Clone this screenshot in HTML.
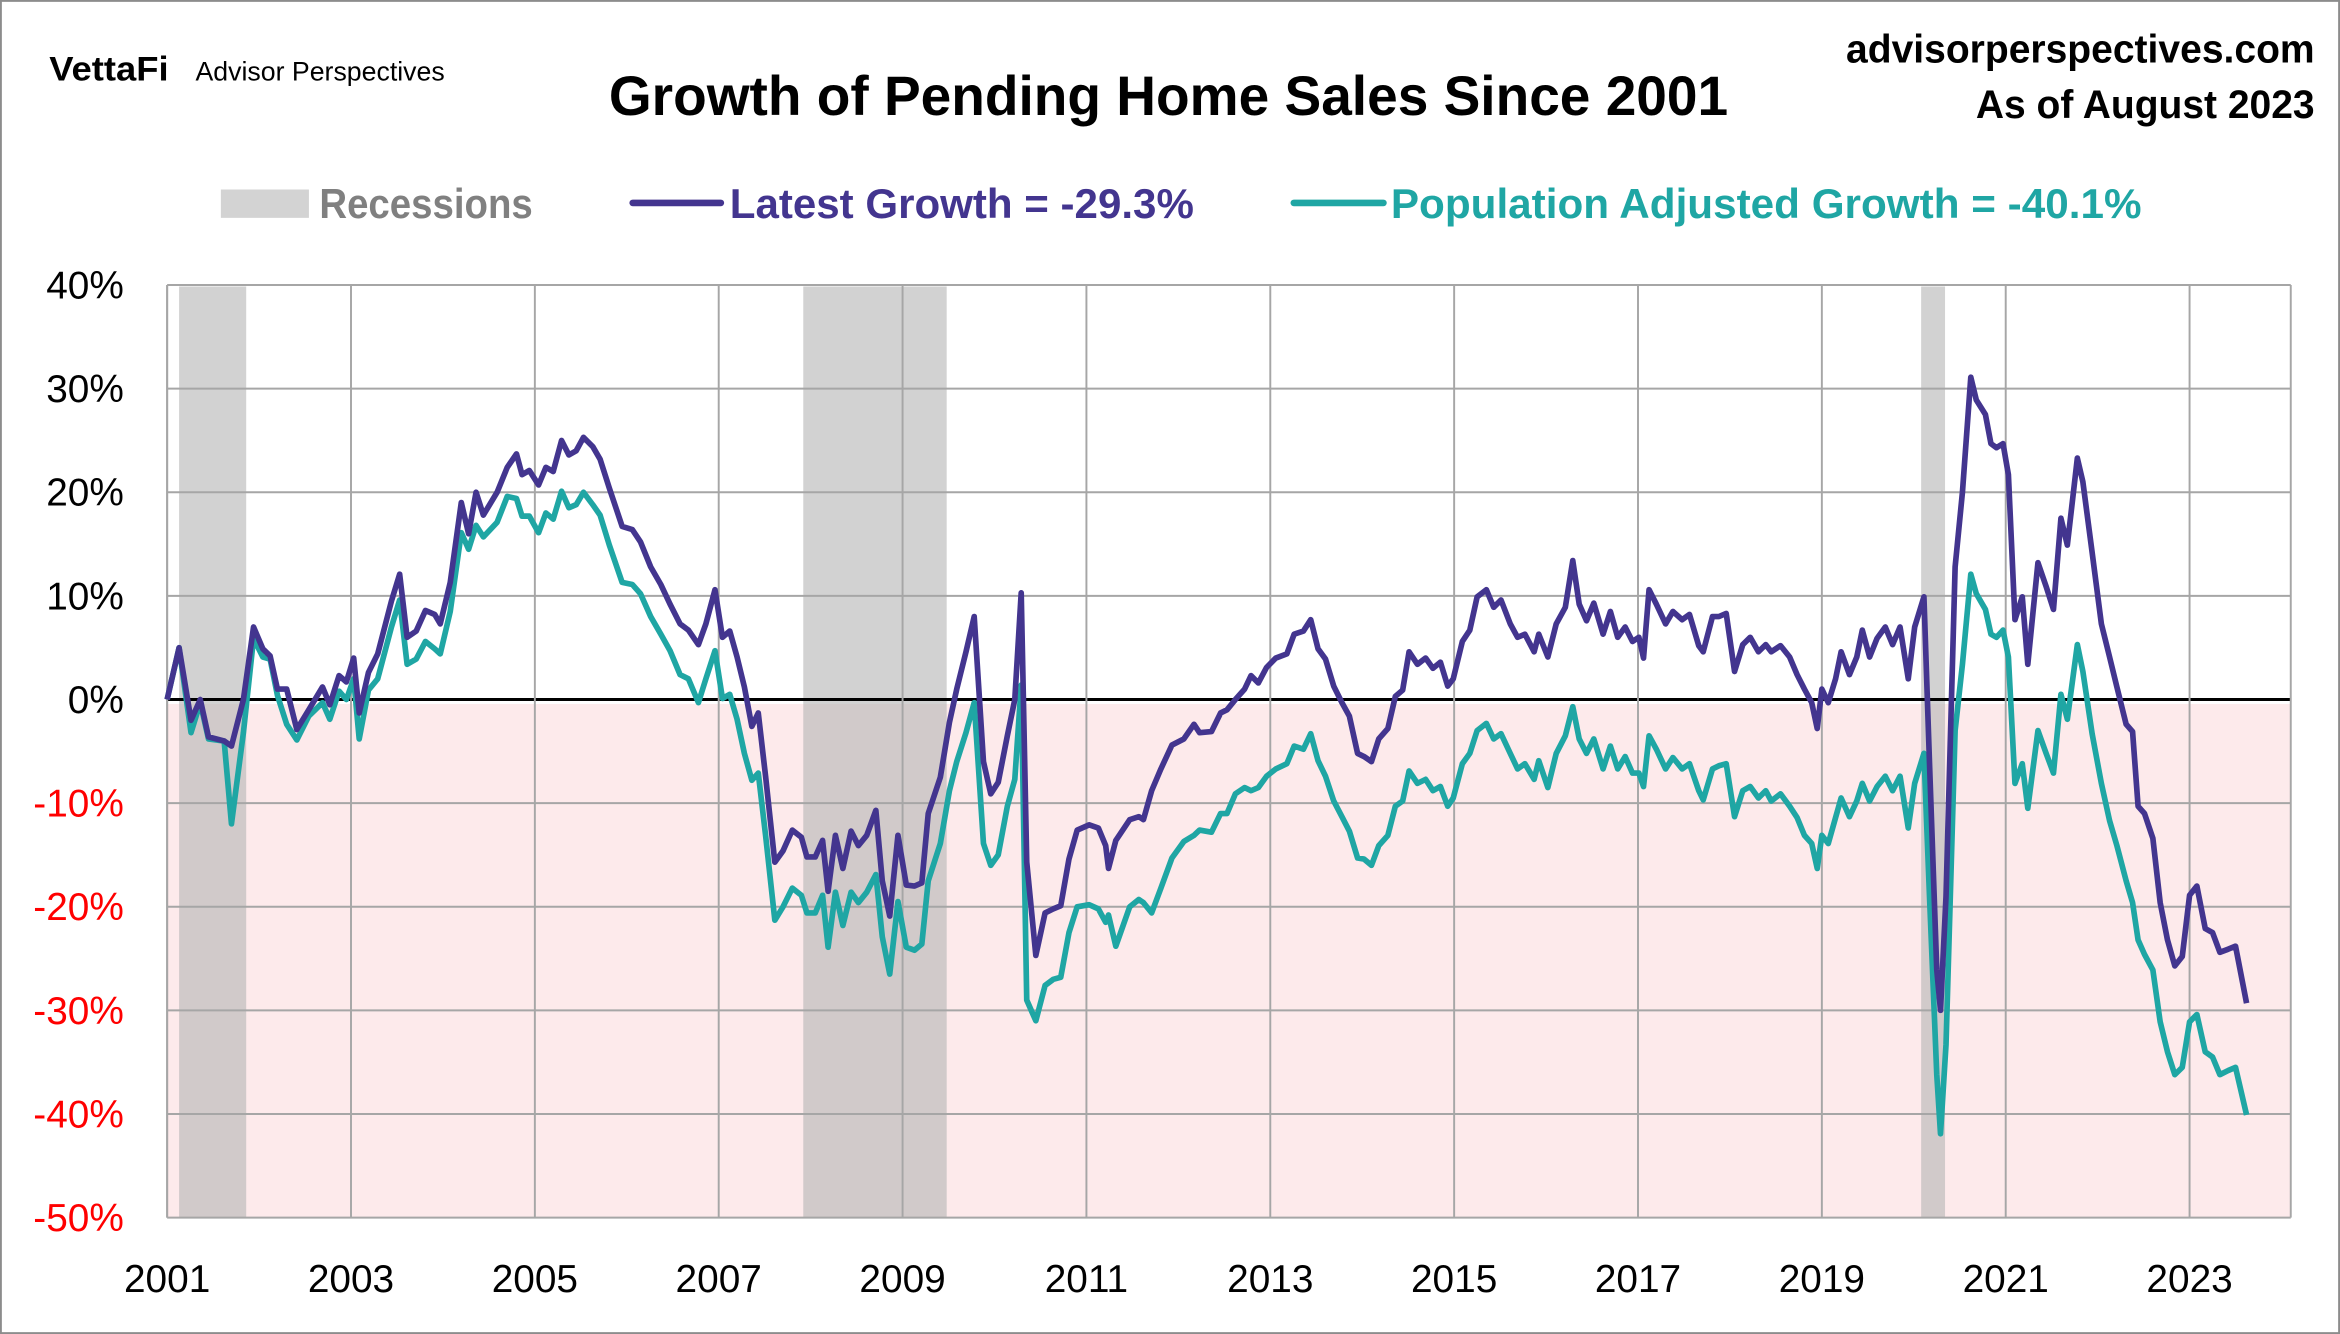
<!DOCTYPE html>
<html><head><meta charset="utf-8"><style>
html,body{margin:0;padding:0;background:#fff;}
svg{display:block;}
text{font-family:"Liberation Sans Narrow","Liberation Sans",sans-serif;}
</style></head><body>
<svg id="chart" width="2340" height="1334" viewBox="0 0 1568 894" preserveAspectRatio="none" xmlns="http://www.w3.org/2000/svg">
<rect x="0.5" y="0.5" width="1567" height="893" fill="#fff" stroke="#8c8c8c" stroke-width="1.5"/>
<g>
<text x="33" y="54" font-size="23" font-weight="900" textLength="80" lengthAdjust="spacingAndGlyphs">VettaFi</text>
<text x="131" y="54" font-size="18" textLength="167" lengthAdjust="spacingAndGlyphs">Advisor Perspectives</text>
</g>
<text x="408" y="77" font-size="37" font-weight="bold" textLength="750" lengthAdjust="spacingAndGlyphs">Growth of Pending Home Sales Since 2001</text>
<text x="1551" y="42" font-size="27" font-weight="bold" text-anchor="end" textLength="314" lengthAdjust="spacingAndGlyphs">advisorperspectives.com</text>
<text x="1551" y="79" font-size="27" font-weight="bold" text-anchor="end" textLength="227" lengthAdjust="spacingAndGlyphs">As of August 2023</text>
<g>
<g>
<rect x="148" y="127" width="59" height="19" fill="#d3d3d3"/>
<text x="214" y="146" font-size="28" font-weight="bold" fill="#808080" textLength="143" lengthAdjust="spacingAndGlyphs">Recessions</text>
</g>
<g>
<line x1="424" y1="136" x2="483" y2="136" stroke="#43358f" stroke-width="4.5" stroke-linecap="round"/>
<text x="489" y="146" font-size="28" font-weight="bold" fill="#43358f" textLength="311" lengthAdjust="spacingAndGlyphs">Latest Growth = -29.3%</text>
</g>
<g>
<line x1="867" y1="136" x2="927" y2="136" stroke="#1fa6a4" stroke-width="4.5" stroke-linecap="round"/>
<text x="932" y="146" font-size="28" font-weight="bold" fill="#1fa6a4" textLength="503" lengthAdjust="spacingAndGlyphs">Population Adjusted Growth = -40.1%</text>
</g>
</g>
<g id="plot"></g>
</svg>
<script>
const yTicks = [40,30,20,10,0,-10,-20,-30,-40,-50];
const xTickYears = [2001,2003,2005,2007,2009,2011,2013,2015,2017,2019,2021,2023];
const recessionStarts = [2001.13,2007.92,2020.08];
const recessionEnds = [2001.86,2009.48,2020.34];
const dates = [2001.00,2001.13,2001.26,2001.36,2001.45,2001.62,2001.70,2001.83,2001.94,2002.04,2002.12,2002.20,2002.30,2002.41,2002.54,2002.69,2002.77,2002.87,2002.95,2003.03,2003.09,2003.19,2003.29,2003.44,2003.53,2003.61,2003.71,2003.81,2003.91,2003.97,2004.08,2004.20,2004.28,2004.36,2004.44,2004.59,2004.70,2004.80,2004.86,2004.94,2005.04,2005.12,2005.20,2005.29,2005.37,2005.45,2005.53,2005.63,2005.71,2005.81,2005.95,2006.06,2006.15,2006.26,2006.37,2006.47,2006.58,2006.67,2006.78,2006.86,2006.96,2007.04,2007.12,2007.20,2007.28,2007.36,2007.43,2007.51,2007.61,2007.70,2007.80,2007.90,2007.96,2008.05,2008.13,2008.19,2008.27,2008.35,2008.44,2008.52,2008.61,2008.71,2008.78,2008.86,2008.95,2009.04,2009.13,2009.21,2009.28,2009.41,2009.51,2009.59,2009.69,2009.78,2009.88,2009.96,2010.04,2010.14,2010.22,2010.29,2010.35,2010.45,2010.55,2010.64,2010.72,2010.81,2010.90,2011.03,2011.13,2011.21,2011.24,2011.32,2011.47,2011.57,2011.62,2011.71,2011.81,2011.93,2012.06,2012.17,2012.23,2012.36,2012.46,2012.53,2012.62,2012.72,2012.79,2012.87,2012.96,2013.06,2013.18,2013.26,2013.36,2013.44,2013.52,2013.60,2013.69,2013.78,2013.86,2013.95,2014.02,2014.10,2014.18,2014.28,2014.36,2014.44,2014.51,2014.60,2014.69,2014.77,2014.85,2014.93,2014.99,2015.09,2015.17,2015.25,2015.35,2015.43,2015.51,2015.61,2015.69,2015.77,2015.87,2015.92,2016.02,2016.11,2016.21,2016.29,2016.36,2016.44,2016.52,2016.62,2016.70,2016.78,2016.86,2016.94,2017.01,2017.06,2017.12,2017.20,2017.30,2017.38,2017.48,2017.56,2017.66,2017.71,2017.81,2017.88,2017.96,2018.05,2018.14,2018.22,2018.31,2018.39,2018.45,2018.55,2018.65,2018.73,2018.81,2018.89,2018.95,2019.00,2019.07,2019.15,2019.21,2019.30,2019.38,2019.44,2019.52,2019.60,2019.69,2019.77,2019.85,2019.94,2020.01,2020.11,2020.17,2020.25,2020.29,2020.35,2020.45,2020.53,2020.62,2020.68,2020.78,2020.84,2020.90,2020.97,2021.03,2021.10,2021.18,2021.24,2021.35,2021.44,2021.52,2021.60,2021.67,2021.78,2021.84,2021.94,2022.04,2022.13,2022.21,2022.31,2022.38,2022.44,2022.51,2022.60,2022.68,2022.76,2022.84,2022.92,2023.00,2023.08,2023.17,2023.25,2023.33,2023.42,2023.50,2023.62];
const latestGrowth = [0,5.0,-2.0,0,-3.6,-4.0,-4.5,0,7.0,4.9,4.2,1.0,1.0,-2.9,-1.0,1.2,-0.5,2.3,1.7,4.0,-1.3,2.6,4.4,9.5,12.1,6.0,6.6,8.6,8.2,7.3,11.3,19.0,16.0,20.0,17.8,20.0,22.4,23.7,21.7,22.1,20.7,22.4,22.0,25.0,23.6,24.0,25.3,24.4,23.2,20.4,16.7,16.4,15.2,12.8,11.1,9.2,7.3,6.7,5.3,7.3,10.6,6.0,6.6,4.1,1.2,-2.6,-1.3,-7.4,-15.7,-14.6,-12.6,-13.3,-15.2,-15.2,-13.6,-18.5,-13.1,-16.3,-12.7,-14.1,-13.1,-10.7,-17.5,-20.9,-13.1,-17.9,-18.0,-17.7,-11.0,-7.5,-2.2,1.0,4.6,8.0,-6.0,-9.1,-8.0,-3.5,0,10.3,-15.7,-24.7,-20.6,-20.2,-19.9,-15.4,-12.6,-12.1,-12.4,-14.1,-16.3,-13.6,-11.6,-11.3,-11.6,-8.8,-6.7,-4.4,-3.8,-2.4,-3.2,-3.1,-1.3,-1.0,0,1.0,2.3,1.6,3.1,4.0,4.4,6.3,6.6,7.7,4.9,3.9,1.3,-0.3,-1.6,-5.2,-5.5,-6.0,-3.8,-2.8,0.3,0.9,4.6,3.4,4.0,3.0,3.6,1.3,2.0,5.6,6.7,9.9,10.6,8.9,9.6,7.3,6.0,6.3,4.6,6.3,4.1,7.3,8.9,13.4,9.2,7.6,9.3,6.3,8.5,6.0,7.0,5.6,6.0,4.0,10.6,9.2,7.3,8.5,7.7,8.2,5.2,4.6,8.0,8.0,8.3,2.7,5.3,6.0,4.6,5.3,4.6,5.2,4.1,2.4,1.0,-0.3,-2.8,1.0,-0.3,2.0,4.6,2.4,4.1,6.7,4.1,5.9,7.0,5.3,7.0,2.0,7.0,9.9,-6.0,-26.1,-30.0,-19.0,12.8,20.0,31.1,28.9,27.5,24.7,24.3,24.7,21.7,7.7,9.9,3.4,13.2,10.9,8.7,17.5,14.9,23.3,21.0,14.2,7.3,4.1,1.2,-2.4,-3.1,-10.3,-11.0,-13.4,-19.6,-23.2,-25.7,-24.8,-18.9,-18.0,-22.1,-22.5,-24.4,-24.1,-23.8,-29.3];
const popAdjGrowth = [0,5.0,-3.2,-0.3,-3.8,-4.0,-12.0,-3.2,5.9,4.1,3.9,0.4,-2.4,-3.9,-1.6,-0.3,-1.9,0.8,0,2.0,-3.8,0.9,2.0,7.0,9.6,3.4,3.9,5.6,4.9,4.4,8.5,16.1,14.5,16.8,15.7,17.1,19.6,19.4,17.7,17.7,16.1,18.0,17.4,20.1,18.5,18.8,20.0,18.8,17.8,14.9,11.3,11.1,10.2,8.0,6.3,4.7,2.4,2.0,-0.3,2.0,4.7,0.1,0.5,-1.9,-5.2,-7.8,-7.1,-13.1,-21.3,-20.0,-18.2,-18.9,-20.6,-20.6,-18.9,-23.9,-18.6,-21.8,-18.6,-19.6,-18.6,-16.9,-22.9,-26.5,-19.5,-23.9,-24.2,-23.6,-17.5,-13.9,-8.8,-6.0,-3.2,-0.3,-13.9,-16.0,-15.0,-10.3,-7.7,1.4,-29.0,-31.0,-27.6,-27.0,-26.8,-22.5,-20.0,-19.8,-20.2,-21.5,-20.8,-23.8,-20.0,-19.3,-19.6,-20.6,-18.2,-15.3,-13.7,-13.1,-12.6,-12.8,-11.0,-11.0,-9.1,-8.5,-8.8,-8.5,-7.4,-6.7,-6.2,-4.5,-4.8,-3.3,-5.9,-7.4,-9.8,-11.3,-12.7,-15.3,-15.4,-16.0,-14.1,-13.1,-10.3,-9.8,-6.9,-8.1,-7.7,-8.8,-8.4,-10.3,-9.5,-6.2,-5.2,-3.0,-2.3,-3.8,-3.3,-5.2,-6.7,-6.2,-7.7,-5.9,-8.5,-5.2,-3.5,-0.7,-3.8,-5.2,-3.8,-6.7,-4.5,-6.7,-5.5,-7.1,-7.1,-8.4,-3.5,-4.8,-6.7,-5.6,-6.7,-6.2,-8.8,-9.7,-6.7,-6.4,-6.2,-11.3,-8.8,-8.4,-9.5,-8.8,-9.8,-9.1,-10.3,-11.4,-13.1,-13.9,-16.3,-13.1,-13.9,-11.4,-9.5,-11.3,-9.8,-8.1,-9.8,-8.4,-7.4,-8.8,-7.4,-12.4,-8.1,-5.2,-18.9,-36.2,-41.9,-33.3,-3.0,3.4,12.1,10.2,8.7,6.3,6.0,6.7,4.1,-8.1,-6.2,-10.5,-3.0,-5.2,-7.1,0.5,-1.9,5.3,2.7,-3.3,-8.1,-11.7,-14.1,-17.5,-19.6,-23.2,-24.6,-26.1,-31.1,-34.0,-36.2,-35.5,-31.1,-30.4,-34.0,-34.5,-36.2,-35.8,-35.5,-40.1];

const NS = 'http://www.w3.org/2000/svg';
const L = 112, R = 1535, T = 191, B = 816;
const X0 = 2001, PX_PER_YEAR = 61.6;
const yMin = -50, yMax = 40;
const xScale = d => L + (d - X0) * PX_PER_YEAR;
const yScale = v => T + (yMax - v) / (yMax - yMin) * (B - T);
const plot = document.getElementById('plot');
function mk(tag, attrs, parent){
  const e = document.createElementNS(NS, tag);
  for (const k in attrs) e.setAttribute(k, attrs[k]);
  (parent || plot).appendChild(e);
  return e;
}
const neg = mk('rect', {x:L, y:yScale(0)+3, width:R-L, height:B-yScale(0)-3, fill:'#fdeaeb'});


recessionStarts.forEach((s, i) => {
  const r = mk('rect', {x:xScale(s), y:T+1, width:xScale(recessionEnds[i])-xScale(s), height:B-T-1, fill:'#b4b4b4', 'fill-opacity':0.6});
  
  
});
yTicks.forEach(v => {
  const g = mk('line', {x1:L, x2:R, y1:yScale(v), y2:yScale(v), stroke: v===0 ? '#000' : '#a6a6a6', 'stroke-width': v===0 ? 2 : 1.3});
  
  
  const t = mk('text', {x:83, y:yScale(v)+9, 'text-anchor':'end', 'font-size':26, fill: v<0 ? '#ff0000' : '#000'});
  t.textContent = v + '%';
  
  
});
xTickYears.forEach(y => {
  const g = mk('line', {x1:xScale(y), x2:xScale(y), y1:T, y2:B, stroke:'#a6a6a6', 'stroke-width':1.3});
  
  
  const t = mk('text', {x:xScale(y), y:866, 'text-anchor':'middle', 'font-size':26, fill:'#000'});
  t.textContent = y;
  
  
});
const rg = mk('line', {x1:R, x2:R, y1:T, y2:B, stroke:'#a6a6a6', 'stroke-width':1.3});


const lg = mk('line', {x1:L, x2:L, y1:T, y2:B, stroke:'#a6a6a6', 'stroke-width':1.3});


function series(vals, color, name){
  const d = vals.map((v, i) => (i ? 'L' : 'M') + xScale(dates[i]).toFixed(1) + ',' + yScale(v).toFixed(1)).join('');
  const p = mk('path', {d:d, fill:'none', stroke:color, 'stroke-width':3.8, 'stroke-linejoin':'round'});
  
  
}
series(popAdjGrowth, '#1fa6a4', 'population-adjusted-growth-line');
series(latestGrowth, '#43358f', 'latest-growth-line');
</script>
</body></html>
